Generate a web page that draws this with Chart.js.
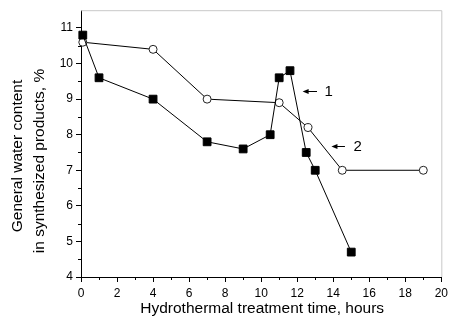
<!DOCTYPE html>
<html>
<head>
<meta charset="utf-8">
<script src="https://cdn.jsdelivr.net/npm/chart.js@4"></script>
<style>
  body { margin: 0; background: #fff; }
  #wrap { width: 452px; height: 321px; }
</style>
</head>
<body>
<div id="wrap"><canvas id="water-chart" width="452" height="321"></canvas></div>
<script>
// curve 1 (filled squares)
const hours1 = [0.1, 1, 4, 7, 9, 10.5, 11, 11.6, 12.5, 13, 15];
const water1 = [10.8, 9.6, 9.0, 7.8, 7.6, 8.0, 9.6, 9.8, 7.5, 7.0, 4.7];
// curve 2 (open circles)
const hours2 = [0.1, 4, 7, 11, 12.6, 14.5, 19];
const water2 = [10.6, 10.4, 9.0, 8.9, 8.2, 7.0, 7.0];

const xTicks = [0, 2, 4, 6, 8, 10, 12, 14, 16, 18, 20];
const yTicks = [4, 5, 6, 7, 8, 9, 10, 11];
const xMinorTicks = [1, 3, 5, 7, 9, 11, 13, 15, 17, 19];
const yMinorTicks = [4.5, 5.5, 6.5, 7.5, 8.5, 9.5, 10.5];

// curve labels with their arrows (in data units)
const curveLabels = ["1", "2"];
const labelX = [13.75, 15.35];
const labelY = [9.23, 7.67];
const arrowFromX = [13.1, 14.65];
const arrowToX = [12.3, 13.9];

const xTitle = "Hydrothermal treatment time, hours";
const yTitle = ["General water content", "in synthesized products, %"];

const FONT = "Arial, 'Liberation Sans', sans-serif";

function toPoints(xs, ys) {
  return xs.map((x, i) => ({ x: x, y: ys[i] }));
}

const extrasPlugin = {
  id: "extras",
  afterDraw(chart) {
    const ctx = chart.ctx;
    const area = chart.chartArea;
    const xs = chart.scales.x;
    const ys = chart.scales.y;
    ctx.save();

    // light frame on top and right
    ctx.strokeStyle = "#c8c8c8";
    ctx.lineWidth = 1;
    ctx.beginPath();
    ctx.moveTo(area.left, area.top + 0.5);
    ctx.lineTo(area.right + 0.5, area.top + 0.5);
    ctx.lineTo(area.right + 0.5, area.bottom);
    ctx.stroke();

    // minor ticks
    ctx.strokeStyle = "#000";
    ctx.beginPath();
    for (const v of xMinorTicks) {
      const px = Math.round(xs.getPixelForValue(v)) + 0.5;
      ctx.moveTo(px, area.bottom);
      ctx.lineTo(px, area.bottom + 3);
    }
    for (const v of yMinorTicks) {
      const py = Math.round(ys.getPixelForValue(v)) + 0.5;
      ctx.moveTo(area.left, py);
      ctx.lineTo(area.left - 3, py);
    }
    ctx.stroke();

    // arrows and curve numbers
    ctx.fillStyle = "#000";
    ctx.font = "15px " + FONT;
    ctx.textAlign = "center";
    ctx.textBaseline = "middle";
    curveLabels.forEach((label, i) => {
      const py = Math.round(ys.getPixelForValue(labelY[i])) + 0.5;
      const x0 = xs.getPixelForValue(arrowFromX[i]);
      const x1 = xs.getPixelForValue(arrowToX[i]);
      ctx.beginPath();
      ctx.moveTo(x0, py);
      ctx.lineTo(x1 + 5, py);
      ctx.stroke();
      ctx.beginPath();
      ctx.moveTo(x1, py);
      ctx.lineTo(x1 + 6, py - 2.5);
      ctx.lineTo(x1 + 6, py + 2.5);
      ctx.closePath();
      ctx.fill();
      ctx.fillText(label, xs.getPixelForValue(labelX[i]), py);
    });

    // axis titles
    ctx.font = "15.5px " + FONT;
    ctx.fillText(xTitle, (area.left + area.right) / 2 + 1, 309);
    ctx.save();
    ctx.translate(18, 156);
    ctx.rotate(-Math.PI / 2);
    ctx.fillText(yTitle[0], 0, 0);
    ctx.restore();
    ctx.save();
    ctx.translate(40, 161);
    ctx.rotate(-Math.PI / 2);
    ctx.fillText(yTitle[1], 0, 0);
    ctx.restore();

    ctx.restore();
  },
};

const chart = new Chart(document.querySelector("#water-chart"), {
  type: "scatter",
  data: {
    datasets: [
      {
        label: "1",
        data: toPoints(hours1, water1),
        showLine: true,
        borderColor: "#000",
        borderWidth: 1,
        pointStyle: "rect",
        pointRadius: 5.5,
        pointBackgroundColor: "#000",
        pointBorderColor: "#000",
        pointBorderWidth: 1,
        clip: false,
      },
      {
        label: "2",
        data: toPoints(hours2, water2),
        showLine: true,
        borderColor: "#000",
        borderWidth: 1,
        pointStyle: "circle",
        pointRadius: 4,
        pointBackgroundColor: "#fff",
        pointBorderColor: "#222",
        pointBorderWidth: 1,
        clip: false,
      },
    ],
  },
  options: {
    responsive: false,
    animation: false,
    events: [],
    layout: { padding: { top: 8, right: 9, left: 0, bottom: 0 } },
    plugins: {
      legend: { display: false },
      tooltip: { enabled: false },
    },
    scales: {
      x: {
        type: "linear",
        min: 0,
        max: 20,
        afterBuildTicks: (s) => {
          s.ticks = xTicks.map((v) => ({ value: v }));
        },
        afterFit: (s) => {
          s.height = 44;
        },
        border: { color: "#000", width: 1 },
        grid: {
          drawOnChartArea: false,
          drawTicks: true,
          tickLength: 5,
          color: "#000",
        },
        ticks: {
          color: "#000",
          font: { family: FONT, size: 12 },
          padding: 4,
          maxRotation: 0,
        },
      },
      y: {
        type: "linear",
        min: 4,
        max: 11.5,
        afterBuildTicks: (s) => {
          s.ticks = yTicks.map((v) => ({ value: v }));
        },
        afterFit: (s) => {
          s.width = 81;
        },
        border: { color: "#000", width: 1 },
        grid: {
          drawOnChartArea: false,
          drawTicks: true,
          tickLength: 5,
          color: "#000",
        },
        ticks: {
          color: "#000",
          font: { family: FONT, size: 12 },
          padding: 3,
        },
      },
    },
  },
  plugins: [extrasPlugin],
});
</script>
</body>
</html>
